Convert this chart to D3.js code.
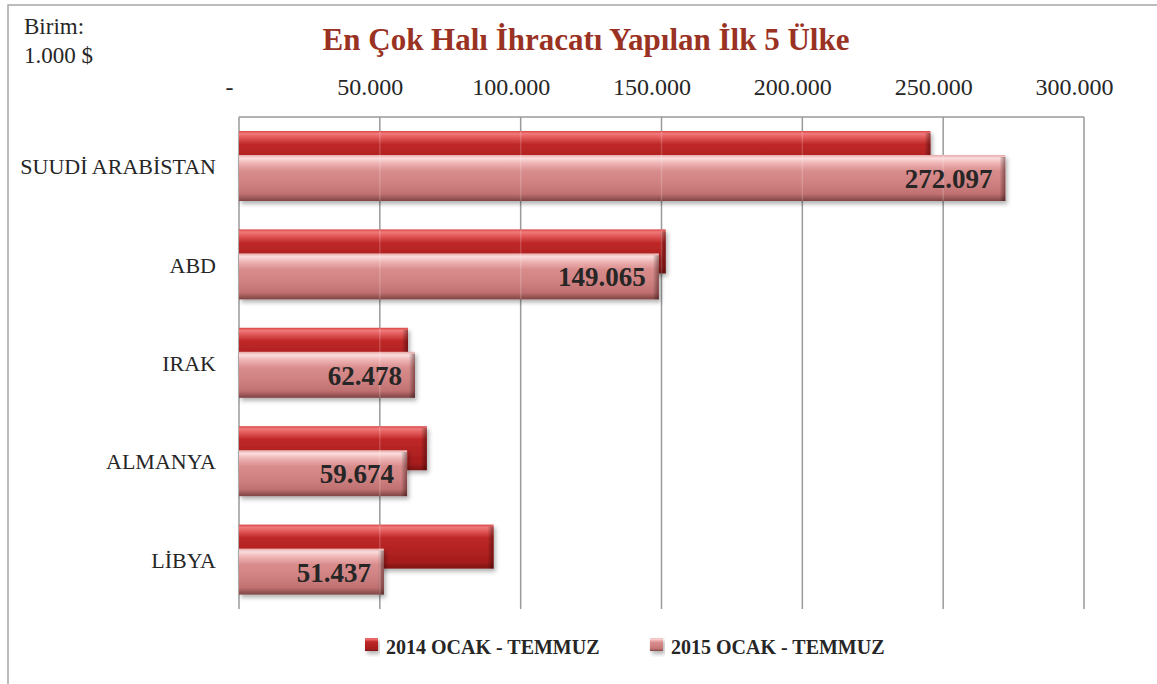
<!DOCTYPE html>
<html>
<head>
<meta charset="utf-8">
<script src="https://cdn.jsdelivr.net/npm/d3@7"></script>
<style>
  body { margin: 0; background: #fff; }
  text { font-family: "Liberation Serif", serif; }
</style>
</head>
<body>
<div id="chart-area"></div>
<script>
// chart data
var countries = ["SUUDİ ARABİSTAN", "ABD", "IRAK", "ALMANYA", "LİBYA"];
var values2014 = [245500, 151500, 60000, 66700, 90400];
var values2015 = [272097, 149065, 62478, 59674, 51437];
var seriesNames = ["2014 OCAK - TEMMUZ", "2015 OCAK - TEMMUZ"];
var tickValues = [0, 50000, 100000, 150000, 200000, 250000, 300000];

var width = 1157, height = 684;

var trFormat = d3.formatLocale({ decimal: ",", thousands: ".", grouping: [3], currency: ["", "$"] }).format(",d");

var svg = d3.select("#chart-area").append("svg")
    .attr("width", width)
    .attr("height", height);

var defs = svg.append("defs");

function vGrad(id, stops) {
    var g = defs.append("linearGradient").attr("id", id)
        .attr("x1", 0).attr("y1", 0).attr("x2", 0).attr("y2", 1);
    stops.forEach(function(s){
        g.append("stop").attr("offset", s[0]).attr("stop-color", s[1]);
    });
}
vGrad("g2014", [[0, "#d94545"], [0.06, "#f07a7a"], [0.16, "#e05555"], [0.3, "#bf2828"], [0.55, "#b32222"], [0.85, "#a61d1d"], [1, "#7e1212"]]);
vGrad("g2015", [[0, "#e8a8a8"], [0.07, "#fbdcdc"], [0.18, "#eeb4b4"], [0.35, "#d98c8c"], [0.6, "#d08282"], [0.85, "#c07070"], [1, "#7f4444"]]);

var cap = defs.append("linearGradient").attr("id", "cap")
    .attr("x1", 0).attr("y1", 0).attr("x2", 1).attr("y2", 0);
cap.append("stop").attr("offset", 0).attr("stop-color", "#000").attr("stop-opacity", 0);
cap.append("stop").attr("offset", 1).attr("stop-color", "#2a0000").attr("stop-opacity", 0.45);

var shadow = defs.append("filter").attr("id", "shadow")
    .attr("x", "-5%").attr("y", "-20%").attr("width", "115%").attr("height", "160%");
shadow.append("feDropShadow").attr("dx", 2).attr("dy", 3)
    .attr("stdDeviation", 2).attr("flood-color", "#000").attr("flood-opacity", 0.3);

// outer border
svg.append("rect")
    .attr("x", 8).attr("y", 5)
    .attr("width", 1200).attr("height", 700)
    .attr("fill", "none")
    .attr("stroke", "#a6a6a6")
    .attr("stroke-width", 1.5);

// scales
var x = d3.scaleLinear().domain([0, 300000]).range([239, 1084]);
var y = d3.scaleBand().domain(countries).range([117, 609]);
var plotTop = 117, plotBottom = 609;

// gridlines
svg.append("g").selectAll("line")
    .data(tickValues)
    .enter().append("line")
      .attr("x1", function(d){ return x(d); })
      .attr("x2", function(d){ return x(d); })
      .attr("y1", plotTop)
      .attr("y2", plotBottom)
      .attr("stroke", "#9a9a9a")
      .attr("stroke-width", 1.5);

svg.append("line")
    .attr("x1", x(0)).attr("x2", x(300000))
    .attr("y1", plotTop).attr("y2", plotTop)
    .attr("stroke", "#9a9a9a").attr("stroke-width", 1.5);

// top axis labels
var xAxis = svg.append("g")
    .attr("transform", "translate(-10," + 95 + ")")
    .call(d3.axisTop(x).tickValues(tickValues).tickSize(0).tickPadding(0)
        .tickFormat(function(d){ return d === 0 ? "-" : trFormat(d); }));
xAxis.select(".domain").remove();
xAxis.selectAll("text")
    .attr("font-family", "Liberation Serif")
    .attr("font-size", "24px")
    .attr("fill", "#262626")
    .attr("dy", 0);

// category labels
var yAxis = svg.append("g")
    .attr("transform", "translate(" + x(0) + ",0)")
    .call(d3.axisLeft(y).tickSize(0).tickPadding(23));
yAxis.select(".domain").remove();
yAxis.selectAll("text")
    .attr("font-family", "Liberation Serif")
    .attr("font-size", "22px")
    .attr("fill", "#262626")
    .attr("dy", "0.36em");

// bars
function drawBars(values, offset, h, grad) {
    var g = svg.append("g").selectAll("g")
        .data(countries)
        .enter().append("g");
    g.append("rect")
        .attr("x", x(0))
        .attr("y", function(d){ return y(d) + offset; })
        .attr("width", function(d, i){ return x(values[i]) - x(0); })
        .attr("height", h)
        .attr("fill", "url(#" + grad + ")")
        .attr("filter", "url(#shadow)");
    g.append("rect")
        .attr("x", function(d, i){ return x(values[i]) - 6; })
        .attr("y", function(d){ return y(d) + offset + 2; })
        .attr("width", 6)
        .attr("height", h - 2)
        .attr("fill", "url(#cap)");
    // faint gridlines showing through
    g.each(function(d, i){
        var sel = d3.select(this);
        tickValues.filter(function(t){ return t > 0 && x(t) < x(values[i]) - 3; })
            .forEach(function(t){
                sel.append("line")
                    .attr("x1", x(t)).attr("x2", x(t))
                    .attr("y1", y(d) + offset).attr("y2", y(d) + offset + h)
                    .attr("stroke", "#ffffff").attr("stroke-opacity", 0.18)
                    .attr("stroke-width", 1.5);
            });
    });
}

drawBars(values2014, 14, 44, "g2014");
drawBars(values2015, 38, 46, "g2015");

// data labels for 2015
svg.append("g").selectAll("text")
    .data(countries)
    .enter().append("text")
      .attr("x", function(d, i){ return x(values2015[i]) - 13; })
      .attr("y", function(d){ return y(d) + 71; })
      .attr("text-anchor", "end")
      .attr("font-family", "Liberation Serif")
      .attr("font-weight", "bold")
      .attr("font-size", "27px")
      .attr("fill", "#262626")
      .text(function(d, i){ return trFormat(values2015[i]); });

// title
svg.append("text")
    .attr("x", 586)
    .attr("y", 50)
    .attr("text-anchor", "middle")
    .attr("font-family", "Liberation Serif")
    .attr("font-weight", "bold")
    .attr("font-size", "31px")
    .attr("fill", "#9a3224")
    .text("En Çok Halı İhracatı Yapılan İlk 5 Ülke");

// unit note
svg.append("text")
    .attr("x", 24).attr("y", 34)
    .attr("font-size", "23px").attr("fill", "#262626")
    .text("Birim:");
svg.append("text")
    .attr("x", 24).attr("y", 63)
    .attr("font-size", "23px").attr("fill", "#262626")
    .text("1.000 $");

// legend
var legendX = [365, 650];
var legendGrad = ["g2014", "g2015"];
var legend = svg.append("g").selectAll("g")
    .data(seriesNames)
    .enter().append("g")
      .attr("transform", function(d, i){ return "translate(" + legendX[i] + ",638)"; });
legend.append("rect")
    .attr("width", 13).attr("height", 13)
    .attr("fill", function(d, i){ return "url(#" + legendGrad[i] + ")"; })
    .attr("filter", "url(#shadow)");
legend.append("text")
    .attr("x", 21).attr("y", 16)
    .attr("font-family", "Liberation Serif")
    .attr("font-weight", "bold")
    .attr("font-size", "20px")
    .attr("fill", "#262626")
    .text(function(d){ return d; });
</script>
</body>
</html>
